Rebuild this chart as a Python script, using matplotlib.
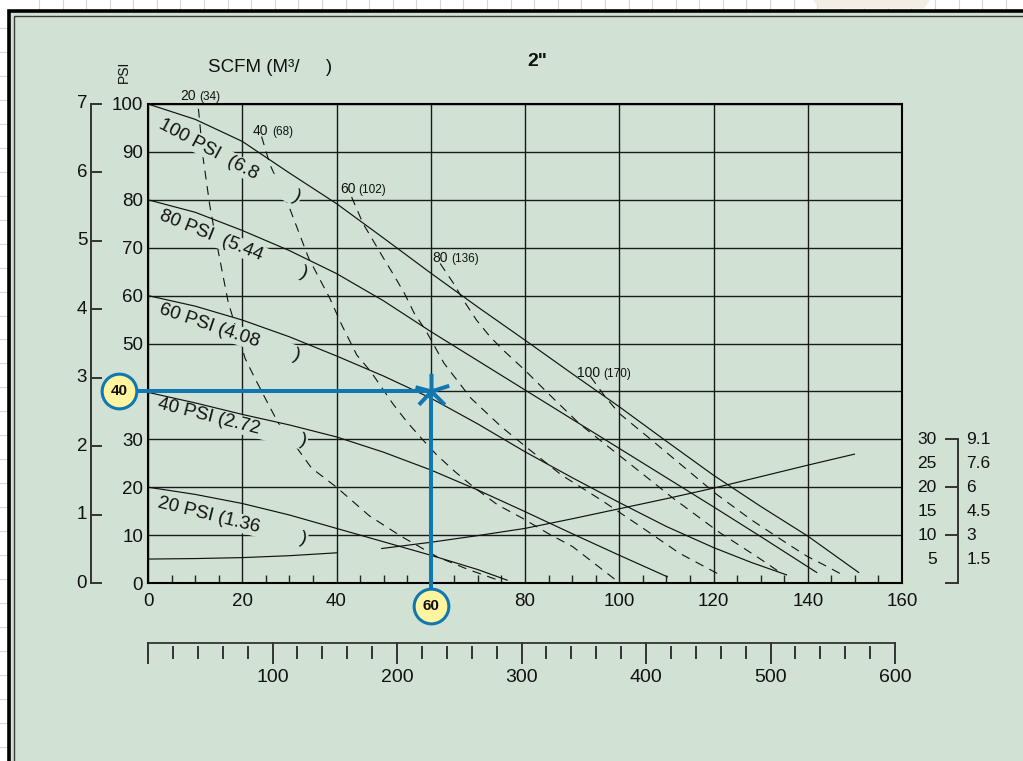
import numpy as np
import matplotlib.pyplot as plt
from matplotlib.path import Path
from matplotlib.patches import Rectangle, Polygon
from matplotlib.ticker import MultipleLocator

plt.rcParams['font.family'] = ['Liberation Sans', 'DejaVu Sans']

# --- escalas / rotulos ---
flow_ticks = [0, 20, 40, 60, 80, 100, 120, 140, 160]
head_ticks = [0, 10, 20, 30, 40, 50, 60, 70, 80, 90, 100]
bar_ticks = [0, 1, 2, 3, 4, 5, 6, 7]
lpm_ticks = [100, 200, 300, 400, 500, 600]
lift_ft = [30, 25, 20, 15, 10, 5]
lift_m = ['9.1', '7.6', '6', '4.5', '3', '1.5']

# --- curvas de pressao do ar (linhas cheias) ---
psi100_x = [0, 10, 20, 30, 40, 50, 60, 70, 80, 90, 100, 110, 120, 130, 140, 150.8]
psi100_y = [100, 96.8, 92.2, 85.6, 79.2, 72.0, 64.7, 57.6, 50.7, 43.7, 36.8, 29.6, 22.5, 16.0, 9.8, 2.2]
psi80_x = [0, 10, 20, 30, 40, 50, 60, 70, 80, 90, 100, 110, 120, 130, 141.9]
psi80_y = [80, 77.4, 73.6, 69.4, 64.6, 58.9, 52.5, 46.4, 40.3, 34.2, 28.1, 22.0, 15.9, 9.7, 2.2]
psi60_x = [0, 10, 20, 30, 40, 50, 60, 70, 80, 90, 100, 110, 120, 128, 135.5]
psi60_y = [60, 57.8, 54.9, 51.4, 47.4, 43.2, 38.6, 33.2, 27.4, 22.0, 16.8, 11.8, 7.4, 4.3, 1.7]
psi40_x = [0, 10, 20, 30, 40, 50, 60, 70, 80, 90, 100, 110.2]
psi40_y = [39.8, 37.6, 35.2, 33.0, 30.5, 27.3, 23.6, 19.4, 14.9, 10.3, 5.8, 1.3]
psi20_x = [0, 10, 20, 30, 40, 50, 60, 70, 76.2]
psi20_y = [20, 18.5, 16.6, 14.2, 11.4, 8.6, 5.8, 2.8, 0.6]

# --- consumo de ar SCFM (tracejado) ---
scfm20_x = [10.7, 11.7, 13.1, 14.5, 17.0, 20.6, 22.7, 25.6, 27.7, 31.9, 34.7, 40.0, 47.0, 53.8, 61.3, 68.0, 74.3]
scfm20_y = [99.0, 88.7, 78.9, 71.3, 58.7, 46.9, 42.7, 37.2, 33.3, 27.8, 24.0, 20.0, 14.0, 9.7, 5.5, 2.8, 0.6]
scfm40_x = [24.1, 25.9, 29.8, 34.1, 38.6, 41.1, 44.3, 47.3, 51.9, 54.9, 58.3, 61.3, 65.2, 69.0, 74.2, 79.5, 84.8, 90.1, 94.7, 99.3]
scfm40_y = [93.2, 87.3, 78.9, 67.8, 59.4, 53.9, 47.6, 44.1, 37.5, 33.7, 29.9, 26.7, 23.2, 20.1, 16.3, 13.5, 10.4, 7.6, 4.1, 0.6]
scfm60_x = [43.2, 45.6, 47.7, 49.8, 51.9, 54.4, 56.5, 58.9, 62.8, 68.5, 75.0, 81.0, 87.8, 96.2, 104.5, 112.8, 120.8]
scfm60_y = [80.6, 75.1, 71.6, 68.1, 64.7, 60.5, 56.3, 52.8, 45.9, 38.6, 32.6, 27.8, 22.5, 17.3, 11.8, 6.2, 2.0]
scfm80_x = [62.0, 64.8, 66.9, 69.7, 72.6, 75.5, 79.9, 85.0, 91.6, 96.2, 103.0, 111.3, 121.2, 129.5, 134.0]
scfm80_y = [66.7, 62.6, 59.1, 54.9, 51.4, 48.5, 44.5, 39.5, 33.2, 29.6, 24.3, 17.8, 10.6, 5.3, 2.3]
scfm100_x = [93.9, 97.0, 100.0, 106.8, 113.6, 120.4, 128.0, 136.0, 140.0, 144.0, 147.0]
scfm100_y = [43.1, 38.9, 35.4, 29.9, 24.3, 18.7, 13.2, 8.0, 5.5, 3.5, 1.9]

# --- curva de elevacao de succao (dois trechos) ---
lift_a_x = [0, 10, 20, 30, 40]
lift_a_y = [5.0, 5.1, 5.3, 5.7, 6.3]
lift_b_x = [49.6, 60, 70, 80, 90, 100, 110, 120, 130, 140, 149.9]
lift_b_y = [7.2, 8.5, 9.9, 11.4, 13.4, 15.5, 17.6, 19.8, 22.2, 24.6, 26.9]

psi_names = ['100 PSI  (6.8', '80 PSI  (5.44', '60 PSI (4.08', '40 PSI (2.72', '20 PSI (1.36']
scfm_vals = [20, 40, 60, 80, 100]
m3h_vals = [34, 68, 102, 136, 170]

exemplo_vazao = 60
exemplo_altura = 40

LPM_POR_GPM = 3.785
PANEL = '#d1e2d5'
AZUL = '#1077b1'
ESCURO = '#1a1a1a'

fig = plt.figure(figsize=(10.23, 7.61), dpi=100, facecolor='white')

# fundo tipo planilha + painel
bg = fig.add_axes([0, 0, 1, 1], zorder=-5)
bg.set_xlim(0, 1023)
bg.set_ylim(761, 0)
bg.axis('off')
for gx in np.arange(39, 1023, 23.58):
    bg.axvline(gx, color='#d6d6d6', lw=0.8, zorder=1)
for gy in np.arange(28, 761, 23.96):
    bg.axhline(gy, color='#d6d6d6', lw=0.8, zorder=1)
bg.add_patch(Polygon([(813, 0), (930, 0), (924, 8.5), (819, 8.5)], closed=True,
                     fc='#f4ede4', ec='none', zorder=2))
bg.add_patch(Rectangle((8.8, 11), 1100, 900, fc=PANEL, ec='black', lw=2.6, zorder=3))
bg.add_patch(Rectangle((13.5, 15.8), 1100, 900, fc='none', ec='#3a3a3a', lw=1.0, zorder=4))

# eixo principal
ax = fig.add_axes([148 / 1023, 178 / 761, 754 / 1023, 479 / 761])
ax.set_facecolor('none')
ax.set_xlim(0, 160)
ax.set_ylim(0, 100)
for s in ax.spines.values():
    s.set_linewidth(1.5)
    s.set_color('black')
    s.set_zorder(4)

# os valores do exemplo ficam nos circulos, nao nos rotulos do eixo
ax.set_xticks(flow_ticks)
ax.set_xticklabels(['' if v == exemplo_vazao else str(v) for v in flow_ticks])
ax.set_yticks(head_ticks)
ax.set_yticklabels(['' if v == exemplo_altura else str(v) for v in head_ticks])
ax.xaxis.set_minor_locator(MultipleLocator(5))
ax.tick_params(axis='x', which='major', length=0, pad=7, labelsize=13.5, labelcolor='#111')
ax.tick_params(axis='x', which='minor', direction='in', length=5.8, width=1.0, color='#222')
ax.tick_params(axis='y', length=0, pad=3.5, labelsize=13.5, labelcolor='#111')
ax.set_axisbelow(True)
ax.grid(True, which='major', color=ESCURO, lw=1.0)

# tracejadas
for xs, ys in [(scfm20_x, scfm20_y), (scfm40_x, scfm40_y), (scfm60_x, scfm60_y),
               (scfm80_x, scfm80_y), (scfm100_x, scfm100_y)]:
    ax.plot(xs, ys, color='#111', lw=0.8, dashes=(8, 6), zorder=1.5)

# rotulos das curvas de pressao
label_pos = [(17.4, 88.1), (18.2, 70.6), (17.3, 52.3), (17.9, 33.5), (17.9, 12.9)]
label_rot = [-28.2, -21.9, -18.7, -14.2, -13.9]
label_gap = [8, 8, 7, 8, 8]
for nome, (lx, ly), rot, gap in zip(psi_names, label_pos, label_rot, label_gap):
    ax.text(lx, ly, nome + ' ' * gap + ')', rotation=rot, rotation_mode='anchor',
            ha='center', va='center', fontsize=13.5, color='#111', zorder=2,
            bbox=dict(boxstyle='square,pad=0.05', fc=PANEL, ec='none'))

# curvas cheias
for xs, ys in [(psi100_x, psi100_y), (psi80_x, psi80_y), (psi60_x, psi60_y),
               (psi40_x, psi40_y), (psi20_x, psi20_y), (lift_a_x, lift_a_y),
               (lift_b_x, lift_b_y)]:
    ax.plot(xs, ys, color='#111', lw=0.85, zorder=3)

# rotulos SCFM (M3/h)
scfm_pos = [(6.8, 100.8), (22.3, 93.5), (40.7, 81.4), (60.4, 67.0), (91.0, 43.0)]
for v, m, (tx, ty) in zip(scfm_vals, m3h_vals, scfm_pos):
    num = str(v)
    ax.text(tx, ty, num, fontsize=10, ha='left', va='baseline', color='#111',
            clip_on=False, zorder=3)
    ax.annotate('(%d)' % m, xy=(tx, ty), xytext=((len(num) * 7.7 + 3.5) * 0.72, 0),
                textcoords='offset points', fontsize=8.5, ha='left', va='baseline',
                color='#111', annotation_clip=False, zorder=3)

# titulos
ax.text(12.7, 106.7, 'SCFM (M³/     )', fontsize=13.5, ha='left', va='baseline',
        color='#111', clip_on=False)
ax.text(80.4, 107.9, '2"', fontsize=14, fontweight='bold', ha='left', va='baseline',
        color='#111', clip_on=False)
ax.text(-5.2, 106.7, 'PSI', fontsize=10, rotation=90, ha='center', va='center',
        color='#111', clip_on=False)

# eixo em bar (esquerda)
bar_x = -12.1
ax.plot([bar_x, bar_x], [0, 100], color='#333', lw=1.4, clip_on=False)
for b in bar_ticks:
    yb = b * 100 / 7
    ax.plot([bar_x, -10.0], [yb, yb], color='#333', lw=1.4, clip_on=False)
    ax.text(-12.9, yb, str(b), fontsize=13.5, ha='right', va='center', color='#111',
            clip_on=False)

# elevacao de succao (direita)
br_x = 171.8
ax.plot([br_x, br_x], [0, 30], color='#333', lw=1.4, clip_on=False)
for t in [30, 20, 10, 0]:
    ax.plot([169.3, br_x], [t, t], color='#333', lw=1.4, clip_on=False)
for ft, m in zip(lift_ft, lift_m):
    ax.text(167.4, ft, str(ft), fontsize=12.5, ha='right', va='center', color='#111',
            clip_on=False)
    ax.text(173.7, ft, m, fontsize=12.5, ha='left', va='center', color='#111',
            clip_on=False)

# escala em litros/min (embaixo)
tr = ax.get_xaxis_transform()
y_lin = -0.1253
ax.plot([0, 600 / LPM_POR_GPM], [y_lin, y_lin], color='#333', lw=1.3, transform=tr,
        clip_on=False)
for lpm in range(0, 601, 20):
    xl = lpm / LPM_POR_GPM
    if lpm % 100 == 0:
        ax.plot([xl, xl], [y_lin, -0.167], color='#333', lw=1.4, transform=tr, clip_on=False)
    else:
        ax.plot([xl, xl], [-0.1336, -0.1566], color='#333', lw=1.4, transform=tr,
                clip_on=False)
for lpm in lpm_ticks:
    ax.text(lpm / LPM_POR_GPM, -0.198, str(lpm), fontsize=14, ha='center', va='center',
            color='#111', transform=tr, clip_on=False)

# exemplo em azul
ax.plot([-6.15, exemplo_vazao], [exemplo_altura, exemplo_altura], color=AZUL, lw=2.9,
        solid_capstyle='butt', clip_on=False, zorder=5)
ax.plot([exemplo_vazao, exemplo_vazao], [exemplo_altura, -4.7], color=AZUL, lw=2.9,
        solid_capstyle='butt', clip_on=False, zorder=5)
arms = [(0, 0), (0, 1), (0, 0), (-0.9, 0.24), (0, 0), (1.0, 0.32),
        (0, 0), (-0.71, -0.75), (0, 0), (0.75, -0.75)]
codes = [Path.MOVETO, Path.LINETO] * 5
ax.plot(exemplo_vazao, exemplo_altura, marker=Path(arms, codes), ms=25.5, mfc='none',
        mec=AZUL, mew=2.9, clip_on=False, zorder=5)
for cx, cy, txt in [(-6.15, exemplo_altura, str(exemplo_altura)),
                    (exemplo_vazao, -4.7, str(exemplo_vazao))]:
    ax.plot(cx, cy, 'o', ms=25, mfc='#fff5a0', mec=AZUL, mew=2.2, clip_on=False, zorder=6)
    ax.text(cx, cy, txt, fontsize=11, fontweight='bold', ha='center', va='center',
            color='#111', clip_on=False, zorder=7)

fig.savefig('out.png', dpi=100, facecolor='white')
